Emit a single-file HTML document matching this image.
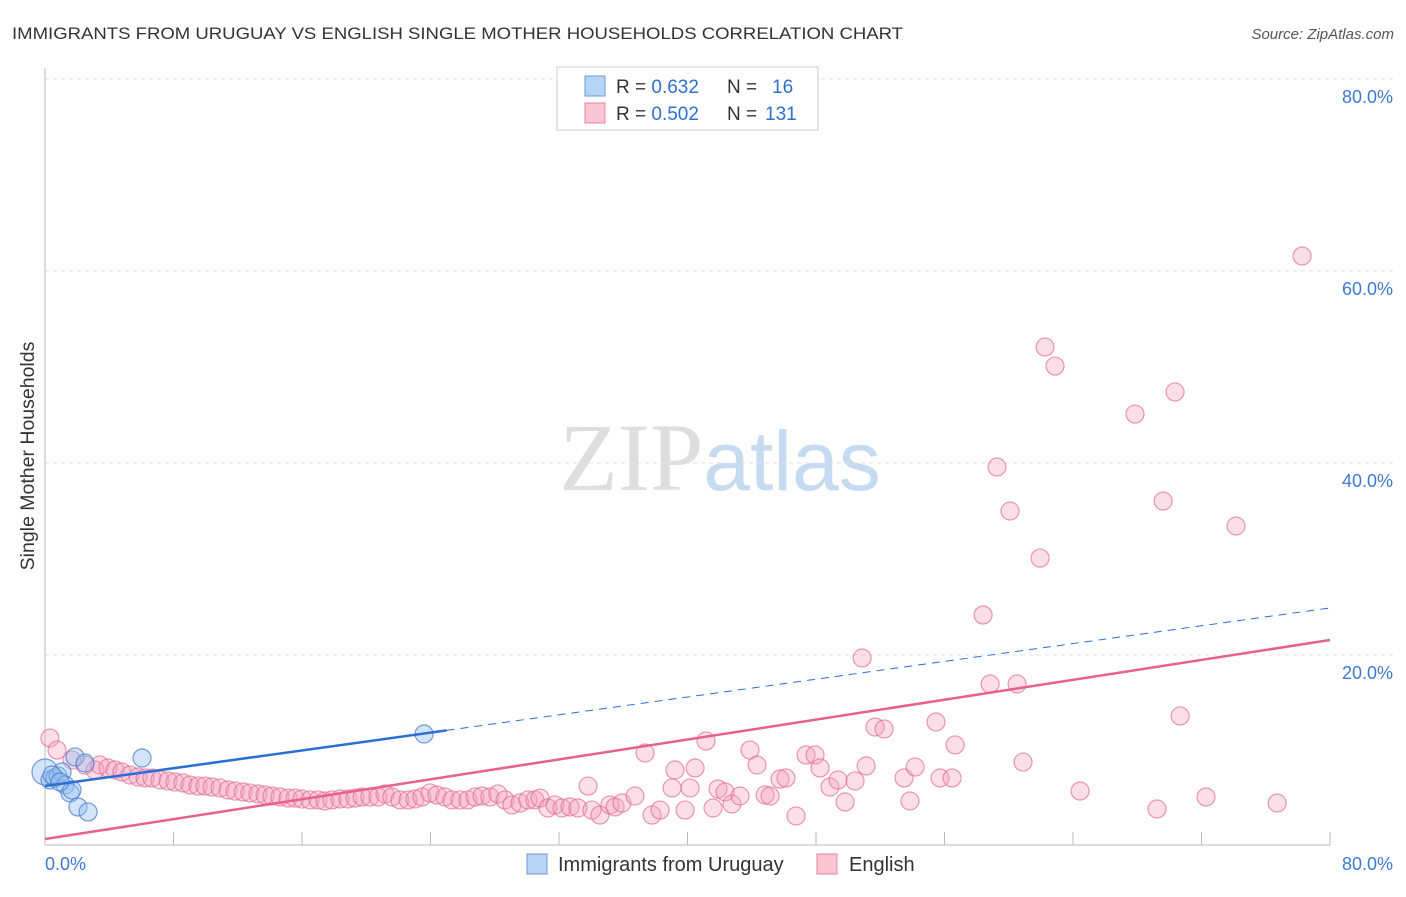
<!DOCTYPE html>
<html><head><meta charset="utf-8"><style>
body{margin:0;background:#fff;font-family:"Liberation Sans",sans-serif;}
svg text{font-family:"Liberation Sans",sans-serif;}
</style></head><body>
<svg id="chart" width="1406" height="892" xmlns="http://www.w3.org/2000/svg">
<text x="12" y="39" font-size="17" fill="#333" textLength="891" lengthAdjust="spacingAndGlyphs">IMMIGRANTS FROM URUGUAY VS ENGLISH SINGLE MOTHER HOUSEHOLDS CORRELATION CHART</text>
<text x="1394" y="39" font-size="15" fill="#555" text-anchor="end" font-style="italic">Source: ZipAtlas.com</text>
<text x="720" y="490" font-size="96" text-anchor="middle"><tspan font-family="Liberation Serif" fill="#dedede">ZIP</tspan><tspan fill="#c6dbf2" font-size="84">atlas</tspan></text>
<g id="grid"></g>
<g id="axes"></g>
<g id="marks"></g>
<text transform="translate(34,456) rotate(-90)" font-size="19.5" fill="#333" text-anchor="middle">Single Mother Households</text>
<g>
<rect x="557" y="67" width="261" height="63" fill="#fff" stroke="#ccc"/>
<rect x="585" y="76" width="20" height="20" fill="#b8d4f4" stroke="#6a9bd8"/>
<rect x="585" y="103" width="20" height="20" fill="#f9c6d6" stroke="#e8819f"/>
<text x="616" y="93" font-size="19" fill="#333">R = <tspan fill="#2f6fd0">0.632</tspan><tspan x="727">N = </tspan><tspan fill="#2f6fd0" x="772">16</tspan></text>
<text x="616" y="120" font-size="19" fill="#333">R = <tspan fill="#2f6fd0">0.502</tspan><tspan x="727">N = </tspan><tspan fill="#2f6fd0" x="765">131</tspan></text>
</g>
<g>
<rect x="527" y="854" width="20" height="20" fill="#b8d4f4" stroke="#6a9bd8"/>
<text x="558" y="871" font-size="20" fill="#333">Immigrants from Uruguay</text>
<rect x="817" y="854" width="20" height="20" fill="#f9c6d6" stroke="#e8819f"/>
<text x="849" y="871" font-size="20" fill="#333">English</text>
</g>
</svg>
<script>
const yTicks=[20,40,60,80];
const yTickLabels=["20.0%","40.0%","60.0%","80.0%"];
const xTickLabels=["0.0%","80.0%"];
const blueX=[0,0.31,0.62,0.81,1.06,1.25,1.56,1.68,2.05,2.68,1.87,2.49,6.04,23.6,0.44,0.93];
const blueY=[7.81,6.98,7.19,7.4,7.81,6.46,5.63,5.94,4.17,3.65,9.38,8.75,9.27,11.77,7.5,6.77];
const pinkX=[0.31,0.75,1.68,2.49,3.11,3.42,3.92,4.36,4.79,5.29,5.79,6.23,6.66,7.16,7.66,8.09,8.59,9.03,9.53,9.96,10.4,10.9,11.39,11.83,12.33,12.76,13.26,13.7,14.13,14.63,15.13,15.57,16.0,16.5,17.0,17.43,17.87,18.37,18.86,19.3,19.74,20.23,20.73,21.17,21.6,22.1,22.6,23.04,23.47,23.97,24.4,24.9,25.34,25.84,26.33,26.77,27.21,27.7,28.2,28.64,29.07,29.57,30.07,30.5,30.82,31.31,31.75,32.19,32.69,33.18,33.81,34.05,34.55,35.17,35.49,35.92,36.73,37.36,37.79,38.29,39.04,39.22,39.85,40.16,40.47,41.15,41.59,41.9,42.34,42.77,43.27,43.89,44.33,44.83,45.14,45.76,46.13,46.76,47.38,47.94,48.25,48.87,49.37,49.81,50.43,50.87,51.12,51.68,52.24,53.48,53.85,54.17,55.47,55.72,56.47,56.66,58.4,58.84,59.27,60.08,60.52,60.89,61.95,62.26,62.88,64.44,67.86,69.23,69.61,70.35,70.67,72.28,74.15,76.71,78.26];
const pinkY=[11.35,10.1,9.06,8.54,8.02,8.54,8.23,8.02,7.81,7.5,7.29,7.19,7.19,6.98,6.88,6.77,6.67,6.46,6.35,6.35,6.25,6.15,5.94,5.83,5.73,5.63,5.52,5.42,5.31,5.21,5.1,5.1,5.0,4.9,4.9,4.79,4.9,5.0,5.0,5.1,5.21,5.21,5.21,5.52,5.21,4.9,4.9,5.0,5.21,5.63,5.42,5.21,4.9,4.9,4.9,5.21,5.31,5.21,5.52,4.9,4.38,4.58,4.9,4.9,5.1,4.06,4.38,4.06,4.17,4.06,6.35,3.85,3.33,4.38,4.17,4.58,5.31,9.79,3.33,3.85,6.15,8.02,3.85,6.15,8.23,11.04,4.06,6.04,5.73,4.48,5.31,10.1,8.54,5.42,5.31,7.08,7.19,3.23,9.58,9.58,8.23,6.25,6.98,4.69,6.88,19.69,8.44,12.5,12.29,7.19,4.79,8.33,13.02,7.19,7.19,10.63,24.17,16.98,39.58,35.0,16.98,8.85,30.1,52.08,50.1,5.83,45.1,3.96,36.04,47.4,13.65,5.21,33.44,4.58,61.56];
const blueTrend=[6.35,24.9];
const blueSolidEnd=25;
const pinkTrend=[0.83,21.56];

const NS="http://www.w3.org/2000/svg";
const X=v=>45+v/80*1285;
const Y=v=>847-v/20*192;
function mk(tag,attrs,parent){const e=document.createElementNS(NS,tag);for(const k in attrs)e.setAttribute(k,attrs[k]);parent.appendChild(e);return e;}
const grid=document.getElementById('grid'),axes=document.getElementById('axes'),marks=document.getElementById('marks');
yTicks.forEach((t,i)=>{
 const l=mk('line',{x1:45,x2:1395,y1:Y(t),y2:Y(t),stroke:'#e2e2e2','stroke-dasharray':'4,4'},grid);
 
 
 const tx=mk('text',{x:1393,y:Y(t)+24,'font-size':18,fill:'#3d7bd8','text-anchor':'end'},axes);
 tx.textContent=yTickLabels[i];
 
 
});
mk('line',{x1:45,x2:45,y1:68,y2:845,stroke:'#bbb'},axes);
mk('line',{x1:45,x2:1330,y1:845,y2:845,stroke:'#bbb'},axes);
for(let i=1;i<=10;i++){const t=mk('line',{x1:X(i*8),x2:X(i*8),y1:832,y2:845,stroke:'#bbb'},axes);
 
 }
const xl0=mk('text',{x:45,y:870,'font-size':18,fill:'#3d7bd8'},axes);xl0.textContent=xTickLabels[0];


const xl1=mk('text',{x:1393,y:870,'font-size':18,fill:'#3d7bd8','text-anchor':'end'},axes);xl1.textContent=xTickLabels[1];


pinkX.forEach((x,i)=>{const c=mk('circle',{cx:X(x),cy:Y(pinkY[i]),r:9,fill:'rgba(244,160,190,0.35)',stroke:'rgba(225,110,150,0.7)','stroke-width':1.2},marks);
 
 });
blueX.forEach((x,i)=>{const c=mk('circle',{cx:X(x),cy:Y(blueY[i]),r:i===0?13:9,fill:'rgba(150,190,240,0.4)',stroke:'rgba(80,130,210,0.8)','stroke-width':1.2},marks);
 
 });
const by=x=>blueTrend[0]+(blueTrend[1]-blueTrend[0])*x/80;
const bl=mk('line',{x1:X(0),y1:Y(by(0)),x2:X(blueSolidEnd),y2:Y(by(blueSolidEnd)),stroke:'#2a6fd6','stroke-width':2.5},marks);


const bd=mk('line',{x1:X(blueSolidEnd),y1:Y(by(blueSolidEnd)),x2:X(80),y2:Y(by(80)),stroke:'#2a6fd6','stroke-width':1,'stroke-dasharray':'8,6'},marks);


const pl=mk('line',{x1:X(0),y1:Y(pinkTrend[0]),x2:X(80),y2:Y(pinkTrend[1]),stroke:'#e8608e','stroke-width':2.5},marks);


</script>
</body></html>
